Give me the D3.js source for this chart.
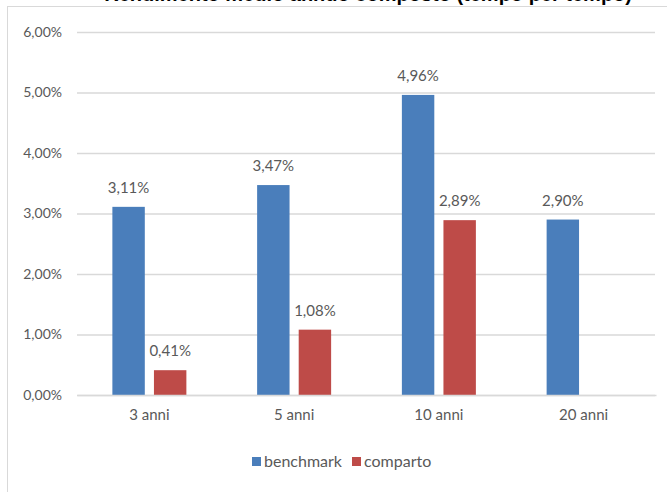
<!DOCTYPE html>
<html>
<head>
<meta charset="utf-8">
<script src="https://cdn.jsdelivr.net/npm/d3@7"></script>
<style>
  body { margin: 0; background: #fff; }
  svg { display: block; font-family: Lato, "Open Sans", sans-serif; }
</style>
</head>
<body>
<svg width="667" height="492"></svg>
<script>
// data
const categories = ['3 anni', '5 anni', '10 anni', '20 anni'];
const seriesNames = ['benchmark', 'comparto'];
const benchmark = [3.11, 3.47, 4.96, 2.90];
const comparto = [0.41, 1.08, 2.89, null];
const yTicks = [0, 1, 2, 3, 4, 5, 6];

const colors = { benchmark: '#4a7ebb', comparto: '#be4b48' };
const textCol = '#595959';

const svg = d3.select('svg');

// chart frame (cut at right / bottom in the source)
svg.append('rect')
  .attr('x', 7.5).attr('y', 6.5)
  .attr('width', 700).attr('height', 500)
  .attr('fill', 'none')
  .attr('stroke', '#d9d9d9');

// title, cropped by the top edge as in the source
svg.append('text')
  .attr('x', 632).attr('y', 1)
  .attr('text-anchor', 'end')
  .attr('font-family', 'Liberation Sans, Arial, sans-serif')
  .attr('font-weight', 'bold')
  .attr('font-size', 20)
  .attr('fill', '#000')
  .text('Rendimento medio annuo composto (tempo per tempo)');

const x = d3.scaleBand()
  .domain(categories)
  .range([77, 656]);

const inner = d3.scaleBand()
  .domain(seriesNames)
  .range([x.bandwidth() / 2 - 37, x.bandwidth() / 2 + 37])
  .paddingInner(0.22);

const y = d3.scaleLinear()
  .domain([0, 6])
  .range([395, 32]);

// gridlines + y labels
const yAxis = svg.append('g')
  .attr('transform', 'translate(77,0)')
  .call(d3.axisLeft(y).tickValues(yTicks).tickSize(-578)
    .tickFormat(d => d3.format('.2f')(d).replace('.', ',') + '%'));
yAxis.select('.domain').remove();
yAxis.selectAll('line').attr('stroke', '#d9d9d9').attr('stroke-width', 1.3);
yAxis.selectAll('text')
  .attr('x', -15)
  .attr('fill', textCol)
  .attr('font-size', 14)
  .attr('font-family', 'Lato, sans-serif');

// bars
const rows = categories.map((c, i) => ({ cat: c, benchmark: benchmark[i], comparto: comparto[i] }));

const groups = svg.selectAll('g.cat')
  .data(rows)
  .enter()
  .append('g')
  .attr('class', 'cat')
  .attr('transform', d => `translate(${x(d.cat)},0)`);

const cells = groups.selectAll('g.bar')
  .data(d => seriesNames.filter(s => d[s] != null).map(s => ({ key: s, value: d[s] })))
  .enter()
  .append('g')
  .attr('class', 'bar');

cells.append('rect')
  .attr('x', d => inner(d.key))
  .attr('width', inner.bandwidth())
  .attr('y', d => y(d.value))
  .attr('height', d => y(0) - y(d.value))
  .attr('fill', d => colors[d.key]);

cells.append('text')
  .attr('x', d => inner(d.key) + inner.bandwidth() / 2)
  .attr('y', d => y(d.value) - 14)
  .attr('text-anchor', 'middle')
  .attr('fill', textCol)
  .attr('font-size', 15)
  .text(d => d3.format('.2f')(d.value).replace('.', ',') + '%');

// x labels
const xAxis = svg.append('g')
  .attr('transform', `translate(0,${y(0)})`)
  .call(d3.axisBottom(x).tickSize(0).tickPadding(14));
xAxis.select('.domain').attr('stroke', '#d9d9d9').attr('stroke-width', 1.3);
xAxis.selectAll('text')
  .attr('fill', textCol)
  .attr('font-size', 15)
  .attr('font-family', 'Lato, sans-serif');

// legend
const legend = svg.append('g').attr('transform', 'translate(252,467)');
const legendX = [0, 100];
seriesNames.forEach((s, i) => {
  const g = legend.append('g').attr('transform', `translate(${legendX[i]},0)`);
  g.append('rect')
    .attr('x', 0).attr('y', -10)
    .attr('width', 9).attr('height', 9)
    .attr('fill', colors[s]);
  g.append('text')
    .attr('x', 12).attr('y', 0)
    .attr('fill', textCol)
    .attr('font-size', 16)
    .text(s);
});
</script>
</body>
</html>
